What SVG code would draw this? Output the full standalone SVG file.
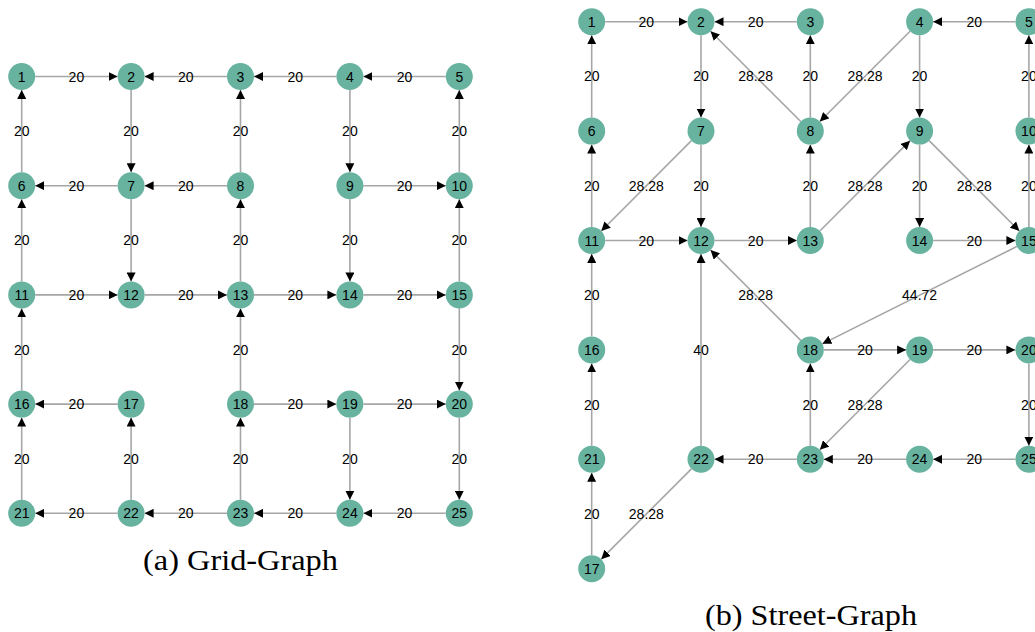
<svg xmlns="http://www.w3.org/2000/svg" width="1035" height="632" viewBox="0 0 1035 632">
<style>
.e{stroke:#a6a6a6;stroke-width:1.6;fill:none;marker-end:url(#ah)}
.n circle{fill:#67b3a0}
.n text,.l{font-family:"Liberation Sans",Arial,sans-serif;font-size:14px;text-anchor:middle;fill:#000}
.cap{font-family:"Liberation Serif","Times New Roman",serif;font-size:29px;text-anchor:middle;fill:#000}
</style>
<defs>
<marker id="ah" viewBox="0 0 10 10" refX="10" refY="5" markerWidth="9" markerHeight="9" markerUnits="userSpaceOnUse" orient="auto"><path d="M0,0 L10,5 L0,10 z" fill="#000"/></marker>
</defs>
<rect width="1035" height="632" fill="#fff"/>
<g id="connectors">
<!-- Grid graph -->
<line class="e" x1="35.2" y1="76.5" x2="117.6" y2="76.5"/>
<line class="e" x1="227" y1="76.5" x2="144.6" y2="76.5"/>
<line class="e" x1="336.4" y1="76.5" x2="254" y2="76.5"/>
<line class="e" x1="445.8" y1="76.5" x2="363.4" y2="76.5"/>
<line class="e" x1="117.6" y1="185.7" x2="35.2" y2="185.7"/>
<line class="e" x1="227" y1="185.7" x2="144.6" y2="185.7"/>
<line class="e" x1="363.4" y1="185.7" x2="445.8" y2="185.7"/>
<line class="e" x1="35.2" y1="294.9" x2="117.6" y2="294.9"/>
<line class="e" x1="144.6" y1="294.9" x2="227" y2="294.9"/>
<line class="e" x1="254" y1="294.9" x2="336.4" y2="294.9"/>
<line class="e" x1="363.4" y1="294.9" x2="445.8" y2="294.9"/>
<line class="e" x1="117.6" y1="404.1" x2="35.2" y2="404.1"/>
<line class="e" x1="254" y1="404.1" x2="336.4" y2="404.1"/>
<line class="e" x1="363.4" y1="404.1" x2="445.8" y2="404.1"/>
<line class="e" x1="117.6" y1="513.3" x2="35.2" y2="513.3"/>
<line class="e" x1="227" y1="513.3" x2="144.6" y2="513.3"/>
<line class="e" x1="336.4" y1="513.3" x2="254" y2="513.3"/>
<line class="e" x1="445.8" y1="513.3" x2="363.4" y2="513.3"/>
<line class="e" x1="21.7" y1="172.2" x2="21.7" y2="90"/>
<line class="e" x1="131.1" y1="90" x2="131.1" y2="172.2"/>
<line class="e" x1="240.5" y1="172.2" x2="240.5" y2="90"/>
<line class="e" x1="349.9" y1="90" x2="349.9" y2="172.2"/>
<line class="e" x1="459.3" y1="172.2" x2="459.3" y2="90"/>
<line class="e" x1="21.7" y1="281.4" x2="21.7" y2="199.2"/>
<line class="e" x1="131.1" y1="199.2" x2="131.1" y2="281.4"/>
<line class="e" x1="240.5" y1="281.4" x2="240.5" y2="199.2"/>
<line class="e" x1="349.9" y1="199.2" x2="349.9" y2="281.4"/>
<line class="e" x1="459.3" y1="281.4" x2="459.3" y2="199.2"/>
<line class="e" x1="21.7" y1="390.6" x2="21.7" y2="308.4"/>
<line class="e" x1="240.5" y1="390.6" x2="240.5" y2="308.4"/>
<line class="e" x1="459.3" y1="308.4" x2="459.3" y2="390.6"/>
<line class="e" x1="21.7" y1="499.8" x2="21.7" y2="417.6"/>
<line class="e" x1="131.1" y1="499.8" x2="131.1" y2="417.6"/>
<line class="e" x1="240.5" y1="499.8" x2="240.5" y2="417.6"/>
<line class="e" x1="349.9" y1="417.6" x2="349.9" y2="499.8"/>
<line class="e" x1="459.3" y1="417.6" x2="459.3" y2="499.8"/>
<!-- Street graph -->
<line class="e" x1="605.2" y1="21.7" x2="687.5" y2="21.7"/>
<line class="e" x1="796.8" y1="21.7" x2="714.5" y2="21.7"/>
<line class="e" x1="1015.4" y1="21.7" x2="933.1" y2="21.7"/>
<line class="e" x1="591.7" y1="117.6" x2="591.7" y2="35.2"/>
<line class="e" x1="701" y1="35.2" x2="701" y2="117.6"/>
<line class="e" x1="810.3" y1="117.6" x2="810.3" y2="35.2"/>
<line class="e" x1="919.6" y1="35.2" x2="919.6" y2="117.6"/>
<line class="e" x1="1028.9" y1="117.6" x2="1028.9" y2="35.2"/>
<line class="e" x1="800.75" y1="121.55" x2="710.55" y2="31.25"/>
<line class="e" x1="910.05" y1="31.25" x2="819.85" y2="121.55"/>
<line class="e" x1="591.7" y1="227" x2="591.7" y2="144.6"/>
<line class="e" x1="701" y1="144.6" x2="701" y2="227"/>
<line class="e" x1="810.3" y1="227" x2="810.3" y2="144.6"/>
<line class="e" x1="919.6" y1="144.6" x2="919.6" y2="227"/>
<line class="e" x1="1028.9" y1="227" x2="1028.9" y2="144.6"/>
<line class="e" x1="691.45" y1="140.65" x2="601.25" y2="230.95"/>
<line class="e" x1="819.85" y1="230.95" x2="910.05" y2="140.65"/>
<line class="e" x1="929.15" y1="140.65" x2="1019.35" y2="230.95"/>
<line class="e" x1="605.2" y1="240.5" x2="687.5" y2="240.5"/>
<line class="e" x1="714.5" y1="240.5" x2="796.8" y2="240.5"/>
<line class="e" x1="933.1" y1="240.5" x2="1015.4" y2="240.5"/>
<line class="e" x1="591.7" y1="336.4" x2="591.7" y2="254"/>
<line class="e" x1="800.75" y1="340.35" x2="710.55" y2="250.05"/>
<line class="e" x1="1016.83" y1="246.54" x2="822.37" y2="343.86"/>
<line class="e" x1="701" y1="445.8" x2="701" y2="254"/>
<line class="e" x1="823.8" y1="349.9" x2="906.1" y2="349.9"/>
<line class="e" x1="933.1" y1="349.9" x2="1015.4" y2="349.9"/>
<line class="e" x1="591.7" y1="445.8" x2="591.7" y2="363.4"/>
<line class="e" x1="810.3" y1="445.8" x2="810.3" y2="363.4"/>
<line class="e" x1="910.05" y1="359.45" x2="819.85" y2="449.75"/>
<line class="e" x1="1028.9" y1="363.4" x2="1028.9" y2="445.8"/>
<line class="e" x1="796.8" y1="459.3" x2="714.5" y2="459.3"/>
<line class="e" x1="906.1" y1="459.3" x2="823.8" y2="459.3"/>
<line class="e" x1="1015.4" y1="459.3" x2="933.1" y2="459.3"/>
<line class="e" x1="591.7" y1="555.2" x2="591.7" y2="472.8"/>
<line class="e" x1="691.45" y1="468.85" x2="601.25" y2="559.15"/>
</g>
<g id="edge-labels">
<text class="l" x="76.4" y="81.5">20</text>
<text class="l" x="185.8" y="81.5">20</text>
<text class="l" x="295.2" y="81.5">20</text>
<text class="l" x="404.6" y="81.5">20</text>
<text class="l" x="76.4" y="190.7">20</text>
<text class="l" x="185.8" y="190.7">20</text>
<text class="l" x="404.6" y="190.7">20</text>
<text class="l" x="76.4" y="299.9">20</text>
<text class="l" x="185.8" y="299.9">20</text>
<text class="l" x="295.2" y="299.9">20</text>
<text class="l" x="404.6" y="299.9">20</text>
<text class="l" x="76.4" y="409.1">20</text>
<text class="l" x="295.2" y="409.1">20</text>
<text class="l" x="404.6" y="409.1">20</text>
<text class="l" x="76.4" y="518.3">20</text>
<text class="l" x="185.8" y="518.3">20</text>
<text class="l" x="295.2" y="518.3">20</text>
<text class="l" x="404.6" y="518.3">20</text>
<text class="l" x="21.7" y="136.1">20</text>
<text class="l" x="131.1" y="136.1">20</text>
<text class="l" x="240.5" y="136.1">20</text>
<text class="l" x="349.9" y="136.1">20</text>
<text class="l" x="459.3" y="136.1">20</text>
<text class="l" x="21.7" y="245.3">20</text>
<text class="l" x="131.1" y="245.3">20</text>
<text class="l" x="240.5" y="245.3">20</text>
<text class="l" x="349.9" y="245.3">20</text>
<text class="l" x="459.3" y="245.3">20</text>
<text class="l" x="21.7" y="354.5">20</text>
<text class="l" x="240.5" y="354.5">20</text>
<text class="l" x="459.3" y="354.5">20</text>
<text class="l" x="21.7" y="463.7">20</text>
<text class="l" x="131.1" y="463.7">20</text>
<text class="l" x="240.5" y="463.7">20</text>
<text class="l" x="349.9" y="463.7">20</text>
<text class="l" x="459.3" y="463.7">20</text>

<text class="l" x="646.35" y="26.7">20</text>
<text class="l" x="755.65" y="26.7">20</text>
<text class="l" x="974.25" y="26.7">20</text>
<text class="l" x="591.7" y="81.4">20</text>
<text class="l" x="701" y="81.4">20</text>
<text class="l" x="755.65" y="81.4">28.28</text>
<text class="l" x="810.3" y="81.4">20</text>
<text class="l" x="864.95" y="81.4">28.28</text>
<text class="l" x="919.6" y="81.4">20</text>
<text class="l" x="1028.9" y="81.4">20</text>
<text class="l" x="591.7" y="190.8">20</text>
<text class="l" x="646.35" y="190.8">28.28</text>
<text class="l" x="701" y="190.8">20</text>
<text class="l" x="810.3" y="190.8">20</text>
<text class="l" x="864.95" y="190.8">28.28</text>
<text class="l" x="919.6" y="190.8">20</text>
<text class="l" x="974.25" y="190.8">28.28</text>
<text class="l" x="1028.9" y="190.8">20</text>
<text class="l" x="646.35" y="245.5">20</text>
<text class="l" x="755.65" y="245.5">20</text>
<text class="l" x="974.25" y="245.5">20</text>
<text class="l" x="591.7" y="300.2">20</text>
<text class="l" x="755.65" y="300.2">28.28</text>
<text class="l" x="919.6" y="300.2">44.72</text>
<text class="l" x="701" y="354.9">40</text>
<text class="l" x="864.95" y="354.9">20</text>
<text class="l" x="974.25" y="354.9">20</text>
<text class="l" x="591.7" y="409.6">20</text>
<text class="l" x="810.3" y="409.6">20</text>
<text class="l" x="864.95" y="409.6">28.28</text>
<text class="l" x="1028.9" y="409.6">20</text>
<text class="l" x="755.65" y="464.3">20</text>
<text class="l" x="864.95" y="464.3">20</text>
<text class="l" x="974.25" y="464.3">20</text>
<text class="l" x="591.7" y="519">20</text>
<text class="l" x="646.35" y="519">28.28</text>
</g>
<g id="grid-nodes">
<g id="a1" class="n"><circle cx="21.7" cy="76.5" r="13.5"/><text x="21.7" y="81.5">1</text></g>
<g id="a2" class="n"><circle cx="131.1" cy="76.5" r="13.5"/><text x="131.1" y="81.5">2</text></g>
<g id="a3" class="n"><circle cx="240.5" cy="76.5" r="13.5"/><text x="240.5" y="81.5">3</text></g>
<g id="a4" class="n"><circle cx="349.9" cy="76.5" r="13.5"/><text x="349.9" y="81.5">4</text></g>
<g id="a5" class="n"><circle cx="459.3" cy="76.5" r="13.5"/><text x="459.3" y="81.5">5</text></g>
<g id="a6" class="n"><circle cx="21.7" cy="185.7" r="13.5"/><text x="21.7" y="190.7">6</text></g>
<g id="a7" class="n"><circle cx="131.1" cy="185.7" r="13.5"/><text x="131.1" y="190.7">7</text></g>
<g id="a8" class="n"><circle cx="240.5" cy="185.7" r="13.5"/><text x="240.5" y="190.7">8</text></g>
<g id="a9" class="n"><circle cx="349.9" cy="185.7" r="13.5"/><text x="349.9" y="190.7">9</text></g>
<g id="a10" class="n"><circle cx="459.3" cy="185.7" r="13.5"/><text x="459.3" y="190.7">10</text></g>
<g id="a11" class="n"><circle cx="21.7" cy="294.9" r="13.5"/><text x="21.7" y="299.9">11</text></g>
<g id="a12" class="n"><circle cx="131.1" cy="294.9" r="13.5"/><text x="131.1" y="299.9">12</text></g>
<g id="a13" class="n"><circle cx="240.5" cy="294.9" r="13.5"/><text x="240.5" y="299.9">13</text></g>
<g id="a14" class="n"><circle cx="349.9" cy="294.9" r="13.5"/><text x="349.9" y="299.9">14</text></g>
<g id="a15" class="n"><circle cx="459.3" cy="294.9" r="13.5"/><text x="459.3" y="299.9">15</text></g>
<g id="a16" class="n"><circle cx="21.7" cy="404.1" r="13.5"/><text x="21.7" y="409.1">16</text></g>
<g id="a17" class="n"><circle cx="131.1" cy="404.1" r="13.5"/><text x="131.1" y="409.1">17</text></g>
<g id="a18" class="n"><circle cx="240.5" cy="404.1" r="13.5"/><text x="240.5" y="409.1">18</text></g>
<g id="a19" class="n"><circle cx="349.9" cy="404.1" r="13.5"/><text x="349.9" y="409.1">19</text></g>
<g id="a20" class="n"><circle cx="459.3" cy="404.1" r="13.5"/><text x="459.3" y="409.1">20</text></g>
<g id="a21" class="n"><circle cx="21.7" cy="513.3" r="13.5"/><text x="21.7" y="518.3">21</text></g>
<g id="a22" class="n"><circle cx="131.1" cy="513.3" r="13.5"/><text x="131.1" y="518.3">22</text></g>
<g id="a23" class="n"><circle cx="240.5" cy="513.3" r="13.5"/><text x="240.5" y="518.3">23</text></g>
<g id="a24" class="n"><circle cx="349.9" cy="513.3" r="13.5"/><text x="349.9" y="518.3">24</text></g>
<g id="a25" class="n"><circle cx="459.3" cy="513.3" r="13.5"/><text x="459.3" y="518.3">25</text></g>
</g>
<g id="street-nodes">
<g id="b1" class="n"><circle cx="591.7" cy="21.7" r="13.5"/><text x="591.7" y="26.7">1</text></g>
<g id="b2" class="n"><circle cx="701" cy="21.7" r="13.5"/><text x="701" y="26.7">2</text></g>
<g id="b3" class="n"><circle cx="810.3" cy="21.7" r="13.5"/><text x="810.3" y="26.7">3</text></g>
<g id="b4" class="n"><circle cx="919.6" cy="21.7" r="13.5"/><text x="919.6" y="26.7">4</text></g>
<g id="b5" class="n"><circle cx="1028.9" cy="21.7" r="13.5"/><text x="1028.9" y="26.7">5</text></g>
<g id="b6" class="n"><circle cx="591.7" cy="131.1" r="13.5"/><text x="591.7" y="136.1">6</text></g>
<g id="b7" class="n"><circle cx="701" cy="131.1" r="13.5"/><text x="701" y="136.1">7</text></g>
<g id="b8" class="n"><circle cx="810.3" cy="131.1" r="13.5"/><text x="810.3" y="136.1">8</text></g>
<g id="b9" class="n"><circle cx="919.6" cy="131.1" r="13.5"/><text x="919.6" y="136.1">9</text></g>
<g id="b10" class="n"><circle cx="1028.9" cy="131.1" r="13.5"/><text x="1028.9" y="136.1">10</text></g>
<g id="b11" class="n"><circle cx="591.7" cy="240.5" r="13.5"/><text x="591.7" y="245.5">11</text></g>
<g id="b12" class="n"><circle cx="701" cy="240.5" r="13.5"/><text x="701" y="245.5">12</text></g>
<g id="b13" class="n"><circle cx="810.3" cy="240.5" r="13.5"/><text x="810.3" y="245.5">13</text></g>
<g id="b14" class="n"><circle cx="919.6" cy="240.5" r="13.5"/><text x="919.6" y="245.5">14</text></g>
<g id="b15" class="n"><circle cx="1028.9" cy="240.5" r="13.5"/><text x="1028.9" y="245.5">15</text></g>
<g id="b16" class="n"><circle cx="591.7" cy="349.9" r="13.5"/><text x="591.7" y="354.9">16</text></g>
<g id="b18" class="n"><circle cx="810.3" cy="349.9" r="13.5"/><text x="810.3" y="354.9">18</text></g>
<g id="b19" class="n"><circle cx="919.6" cy="349.9" r="13.5"/><text x="919.6" y="354.9">19</text></g>
<g id="b20" class="n"><circle cx="1028.9" cy="349.9" r="13.5"/><text x="1028.9" y="354.9">20</text></g>
<g id="b21" class="n"><circle cx="591.7" cy="459.3" r="13.5"/><text x="591.7" y="464.3">21</text></g>
<g id="b22" class="n"><circle cx="701" cy="459.3" r="13.5"/><text x="701" y="464.3">22</text></g>
<g id="b23" class="n"><circle cx="810.3" cy="459.3" r="13.5"/><text x="810.3" y="464.3">23</text></g>
<g id="b24" class="n"><circle cx="919.6" cy="459.3" r="13.5"/><text x="919.6" y="464.3">24</text></g>
<g id="b25" class="n"><circle cx="1028.9" cy="459.3" r="13.5"/><text x="1028.9" y="464.3">25</text></g>
<g id="b17" class="n"><circle cx="591.7" cy="568.7" r="13.5"/><text x="591.7" y="573.7">17</text></g>
</g>
<g id="captions">
<text class="cap" x="240.5" y="570" textLength="195" lengthAdjust="spacingAndGlyphs">(a) Grid-Graph</text>
<text class="cap" x="811" y="625" textLength="212" lengthAdjust="spacingAndGlyphs">(b) Street-Graph</text>
</g>
</svg>
